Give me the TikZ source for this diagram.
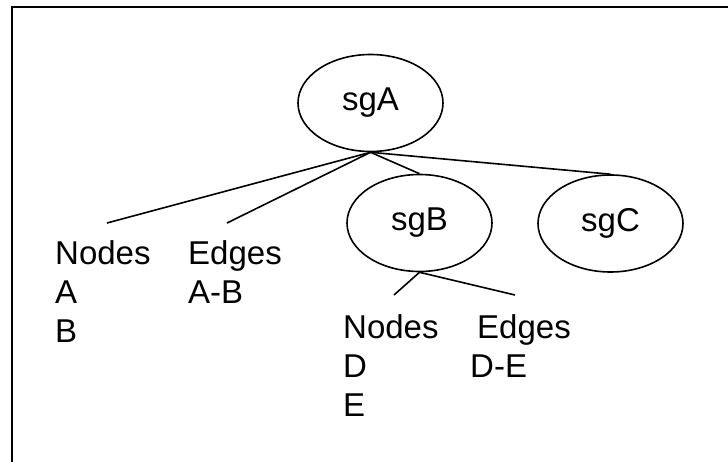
\documentclass[tikz,border=0pt]{standalone}
\usepackage{fontspec}
\setmainfont{Liberation Sans}
\usetikzlibrary{shapes.geometric}
\tikzset{
  sg/.style={draw, ellipse, line width=1.6pt, minimum width=145pt, minimum height=97pt,
             inner sep=0pt, font=\fontsize{33}{39}\selectfont},
  lbl/.style={anchor=base west, inner sep=0pt, font=\fontsize{33}{39}\selectfont},
  link/.style={line width=1.6pt},
  frame/.style={line width=2pt}
}
\begin{document}
\begin{tikzpicture}[x=1pt, y=-1pt]
\useasboundingbox (0,0) rectangle (728,462);
% open frame (left and top edges only)
\draw[frame] (11.5,470) -- (11.5,7) -- (740,7);

% subgraph ellipses
\node[sg] (sgA) at (370.5,103) {sgA};
\node[sg] (sgB) at (419.5,223) {sgB};
\node[sg] (sgC) at (610.5,223.5) {sgC};

% contents of sgA
\node[lbl] (nodesA) at (55,265) {Nodes};
\node[lbl] (nA) at (55,304) {A};
\node[lbl] (nB) at (55,342) {B};
\node[lbl] (edgesA) at (188,265) {Edges};
\node[lbl] (eAB) at (188,304) {A-B};

% contents of sgB
\node[lbl] (nodesB) at (343,338) {Nodes};
\node[lbl] (nD) at (343,377) {D};
\node[lbl] (nE) at (343,416) {E};
\node[lbl] (edgesB) at (477,338) {Edges};
\node[lbl] (eDE) at (470,377) {D-E};

% free ends of the tree connectors
\coordinate (tNodesA) at (107,223);
\coordinate (tEdgesA) at (227,223);
\coordinate (tNodesB) at (394,295);
\coordinate (tEdgesB) at (515,295);

% tree connectors
\draw[link] (sgA.south) -- (tNodesA);
\draw[link] (sgA.south) -- (tEdgesA);
\draw[link] (sgA.south) -- (sgB.north);
\draw[link] (sgA.south) -- (sgC.north);
\draw[link] (sgB.south) -- (tNodesB);
\draw[link] (sgB.south) -- (tEdgesB);
\end{tikzpicture}
\end{document}
